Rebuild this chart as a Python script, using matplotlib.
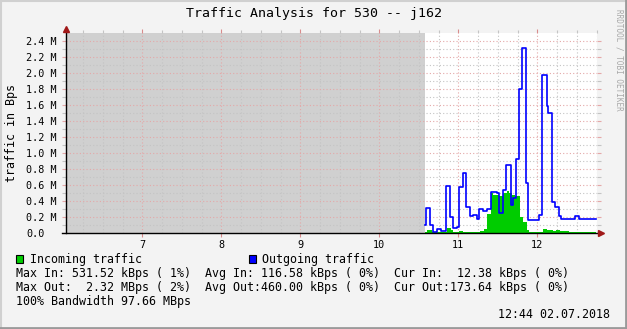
import matplotlib
matplotlib.use('Agg')
import matplotlib.pyplot as plt
from matplotlib.lines import Line2D
from matplotlib.patches import Rectangle
import numpy as np

# step start times in minutes after 10:00, rates in MBps
in_start = [34.5, 36.0, 39.8, 41.0, 51.2, 54.2, 56.2, 60.8, 63.8, 76.5, 79.5,
            81.6, 84.8, 86.6, 89.2, 91.1, 94.2, 96.8, 98.7, 100.6, 103.1, 106.8,
            108.9, 112.4, 113.9, 124.1, 127.1, 131.6, 134.2, 137.2, 144.3]
in_mbps = [0.01, 0.04, 0.015, 0.01, 0.06, 0.035, 0.012, 0.025, 0.012, 0.03, 0.045,
           0.24, 0.50, 0.48, 0.47, 0.46, 0.50, 0.53, 0.50, 0.48, 0.46, 0.20,
           0.14, 0.04, 0.01, 0.05, 0.04, 0.03, 0.04, 0.025, 0.013]

out_start = [34.5, 35.7, 38.7, 41.0, 43.6, 46.6, 50.9, 53.9, 56.2, 58.8, 60.8,
             63.8, 65.8, 68.9, 70.9, 74.4, 75.7, 78.8, 81.6, 84.8, 89.6, 91.1,
             94.2, 96.2, 99.8, 101.3, 103.8, 106.3, 108.6, 111.4, 112.7, 121.5,
             123.8, 127.1, 128.4, 131.4, 133.5, 136.7, 138.0, 143.5, 148.6, 151.9]
out_mbps = [0.096, 0.31, 0.10, 0.017, 0.046, 0.025, 0.59, 0.20, 0.058, 0.07, 0.57,
            0.75, 0.32, 0.21, 0.22, 0.18, 0.30, 0.27, 0.30, 0.51, 0.50, 0.25,
            0.54, 0.85, 0.35, 0.44, 0.93, 1.80, 2.317, 0.62, 0.16, 0.225,
            1.98, 1.59, 1.50, 0.39, 0.32, 0.21, 0.18, 0.17, 0.21, 0.175]
data_end = 164.6      # minutes after 10:00
unknown_until = 34.5  # no data before this (grey area)

hour_ticks = [7, 8, 9, 10, 11, 12]
y_ticks = [0.0, 0.2, 0.4, 0.6, 0.8, 1.0, 1.2, 1.4, 1.6, 1.8, 2.0, 2.2, 2.4]

title = "Traffic Analysis for 530 -- j162"
stat_lines = [
    "Max In: 531.52 kBps ( 1%)  Avg In: 116.58 kBps ( 0%)  Cur In:  12.38 kBps ( 0%)",
    "Max Out:  2.32 MBps ( 2%)  Avg Out:460.00 kBps ( 0%)  Cur Out:173.64 kBps ( 0%)",
    "100% Bandwidth 97.66 MBps",
]
stamp = "12:44 02.07.2018"

W, H = 627, 329
BG = '#F3F3F3'
MONO = 'DejaVu Sans Mono'
plt.rcParams['font.family'] = MONO


def to_hours(mins):
    return 10 + np.asarray(mins, dtype=float) / 60.0


def steps(starts, vals, end):
    xs = to_hours(list(starts) + [end])
    ys = np.array(list(vals) + [vals[-1]])
    return xs, ys


fig = plt.figure(figsize=(W / 100, H / 100), dpi=100, facecolor=BG)
ax = fig.add_axes([66 / W, (H - 233) / H, 531 / W, 200 / H])
ax.set_facecolor('white')
x0, x1 = 6.034, 12.756
ax.set_xlim(x0, x1)
ax.set_ylim(0, 2.5)

ax.axvspan(x0, to_hours(unknown_until), color='#D0D0D0', lw=0, zorder=0.1)

ax.set_xticks(hour_ticks)
ax.set_xticks(np.arange(6.25, 12.76, 0.25), minor=True)
ax.set_xticklabels([str(h) for h in hour_ticks])
ax.set_yticks(y_ticks)
ax.set_yticks(np.arange(0.1, 2.5, 0.2), minor=True)
ax.set_yticklabels(['0.0'] + ['%.1f M' % v for v in y_ticks[1:]])
for lab in ax.get_yticklabels():
    lab.set_horizontalalignment('left')

ax.set_axisbelow(True)
ax.grid(which='major', color='#E4A8A8', lw=0.8, ls=(0, (1, 2)))
ax.grid(which='minor', color='#C4C4C4', lw=0.8, ls=(0, (1, 2)))
ax.tick_params(axis='y', which='both', length=3, width=0.8, color='#C4C4C4',
               labelsize=7.3, pad=25.5, right=True, direction='out')
ax.tick_params(axis='y', which='major', color='#E4A8A8')
ax.tick_params(axis='x', which='major', length=3, width=0.8, color='#D88C8C',
               labelsize=7.3, pad=2, top=True, direction='out')
ax.tick_params(axis='x', which='minor', length=2.5, width=0.8,
               color='#C4C4C4', top=True, bottom=False, direction='out')

xs, ys = steps(in_start, in_mbps, data_end)
ax.fill_between(xs, ys, step='post', color='#00CC00', lw=0, zorder=2)
xs, ys = steps(out_start, out_mbps, data_end)
ax.step(xs, ys, where='post', color='#0000FF', lw=1.2, zorder=3)

for s in ('top', 'right', 'left', 'bottom'):
    ax.spines[s].set_visible(False)
ax.add_line(Line2D([-0.0075, 1.008], [0, 0], transform=ax.transAxes,
                   color='black', lw=1, clip_on=False, zorder=4))
ax.add_line(Line2D([0, 0], [0, 1.015], transform=ax.transAxes,
                   color='black', lw=1, clip_on=False, zorder=4))
ax.plot([1.008], [0], marker='>', ms=5, color='#A01818', mec='#A01818',
        transform=ax.transAxes, clip_on=False, zorder=5)
ax.plot([0], [1.02], marker='^', ms=5, color='#A01818', mec='#A01818',
        transform=ax.transAxes, clip_on=False, zorder=5)

fig.text(0.5, 1 - 13 / H, title, ha='center', va='center', fontsize=9.5)
fig.text(12 / W, 1 - 133 / H, 'traffic in Bps', rotation=90, ha='center',
         va='center', fontsize=8.4)
fig.text(619 / W, 1 - 60 / H, 'RRDTOOL / TOBI OETIKER', rotation=-90,
         ha='center', va='center', fontsize=5.5, color='#A8A8A8')

# legend
for xl, col, txt in [(16, '#00CC00', 'Incoming traffic'),
                     (249, '#0000FF', 'Outgoing traffic')]:
    fig.patches.append(Rectangle((xl / W, 1 - 263 / H), 7 / W, 8 / H,
                                 transform=fig.transFigure, facecolor=col,
                                 edgecolor='black', lw=0.8))
    fig.text((xl + 13.5) / W, 1 - 259 / H, txt, ha='left', va='center',
             fontsize=8.4)
for i, line in enumerate(stat_lines):
    fig.text(16 / W, 1 - (273 + 14 * i) / H, line, ha='left', va='center',
             fontsize=8.4)
fig.text(610 / W, 1 - 315 / H, stamp, ha='right', va='center', fontsize=8.4)

# frame
fig.add_artist(Line2D([0, 1], [1 - 0.5 / H] * 2, color='#D0D0D0', lw=1.5))
fig.add_artist(Line2D([0.5 / W] * 2, [0, 1], color='#D0D0D0', lw=1.5))
fig.add_artist(Line2D([0, 1], [0.8 / H] * 2, color='#9A9A9A', lw=2))
fig.add_artist(Line2D([1 - 0.8 / W] * 2, [0, 1], color='#9A9A9A', lw=2))

fig.savefig('out.png', dpi=100, facecolor=BG)
